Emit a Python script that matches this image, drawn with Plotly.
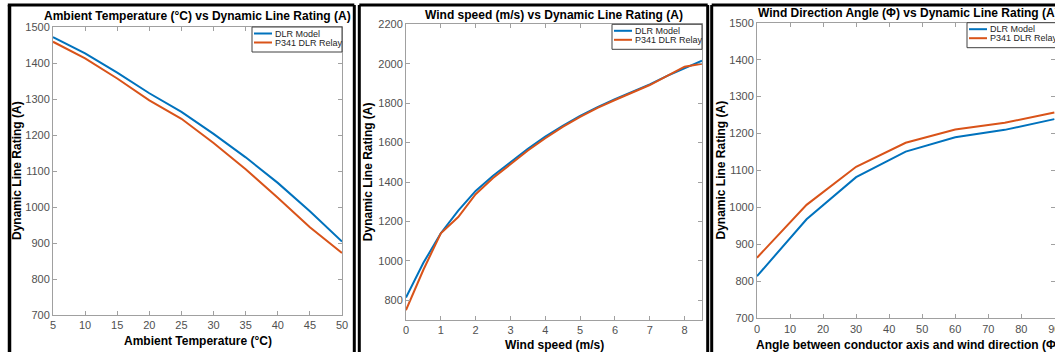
import plotly.graph_objects as go

W, H = 1055, 352

# ---------------- data ----------------
temp_c = [5, 10, 15, 20, 25, 30, 35, 40, 45, 50]
temp_dlr_model = [1472, 1427, 1373, 1316, 1264, 1203, 1138, 1067, 988, 904]
temp_p341_relay = [1459, 1413, 1357, 1296, 1245, 1178, 1105, 1026, 944, 872]

wind_speed = [0, 0.5, 1, 1.5, 2, 2.5, 3, 3.5, 4, 4.5, 5, 5.5, 6, 6.5, 7, 7.5, 8, 8.5]
wind_dlr_model = [814, 990, 1140, 1255, 1355, 1432, 1500, 1568, 1630, 1685, 1735,
                  1780, 1820, 1858, 1895, 1938, 1978, 2015]
wind_p341_relay = [750, 955, 1140, 1222, 1338, 1420, 1490, 1560, 1622, 1680, 1730,
                   1776, 1816, 1855, 1892, 1938, 1985, 2000]

angle_deg = [0, 15, 30, 45, 60, 75, 90]
angle_dlr_model = [814, 968, 1082, 1151, 1190, 1210, 1239]
angle_p341_relay = [864, 1007, 1110, 1175, 1211, 1229, 1257]

series_names = ["DLR Model", "P341 DLR Relay"]
titles = ["Ambient Temperature (°C) vs Dynamic Line Rating (A)",
          "Wind speed (m/s) vs Dynamic Line Rating (A)",
          "Wind Direction Angle (Φ) vs Dynamic Line Rating (A)"]
xtitles = ["Ambient Temperature (°C)", "Wind speed (m/s)",
           "Angle between conductor axis and wind direction (Φ)"]
ytitle = "Dynamic Line Rating (A)"

BLUE = "#0072BD"
ORANGE = "#D95319"
COLORS = [BLUE, ORANGE]
FONT = "Liberation Sans, Arial, sans-serif"


def fx(p):
    return p / W


def fy(p):
    return 1 - p / H


fig = go.Figure()

panels = [
    (temp_c, [temp_dlr_model, temp_p341_relay], "x", "y"),
    (wind_speed, [wind_dlr_model, wind_p341_relay], "x2", "y2"),
    (angle_deg, [angle_dlr_model, angle_p341_relay], "x3", "y3"),
]
for xs, ys_list, xa, ya in panels:
    for k, ys in enumerate(ys_list):
        fig.add_trace(go.Scatter(x=xs, y=ys, mode="lines", name=series_names[k],
                                 line=dict(color=COLORS[k], width=2), xaxis=xa, yaxis=ya,
                                 showlegend=False))

axis_common = dict(showline=True, linecolor="#a0a0a0", linewidth=1, mirror="ticks",
                   ticks="inside", ticklen=4, tickcolor="#a0a0a0", showgrid=False,
                   zeroline=False, automargin=False, ticklabeloverflow="allow",
                   tickfont=dict(size=11, color="#505050", family=FONT))

# plot-area pixel boxes (left, right, top, bottom)
boxes = [(53, 342, 27, 315), (406, 702, 24.3, 320), (757, 1055, 22.7, 318.3)]

fig.update_layout(
    width=W, height=H, margin=dict(l=0, r=0, t=0, b=0, autoexpand=False),
    paper_bgcolor="white", plot_bgcolor="white", showlegend=False,
    xaxis=dict(domain=[fx(53), fx(342)], range=[5, 50], tickvals=list(range(5, 51, 5)),
               anchor="y", **axis_common),
    yaxis=dict(domain=[fy(315), fy(27)], range=[700, 1500], tickvals=list(range(700, 1501, 100)),
               anchor="x", **axis_common),
    xaxis2=dict(domain=[fx(406), fx(702)], range=[0, 8.5], tickvals=list(range(0, 9)),
                anchor="y2", **axis_common),
    yaxis2=dict(domain=[fy(320), fy(24.3)], range=[700, 2200], tickvals=list(range(800, 2201, 200)),
                anchor="x2", **axis_common),
    xaxis3=dict(domain=[fx(757), 1.0], range=[0, 90.2], tickvals=list(range(0, 91, 10)),
                anchor="y3", **axis_common),
    yaxis3=dict(domain=[fy(318.3), fy(22.7)], range=[700, 1500], tickvals=list(range(700, 1501, 100)),
                anchor="x3", **axis_common),
)

anns = []
shapes = []
title_y = [16, 15, 13]
xtitle_y = [341, 345, 345]
ytitle_x = [17, 368, 720]
legend_right = [342, 702, 1057]
for i, (l, r, t, b) in enumerate(boxes):
    cx = (l + r) / 2
    if i == 2:
        cx = 908
    anns.append(dict(text="<b>%s</b>" % titles[i], x=fx(cx), y=fy(title_y[i]), xref="paper",
                     yref="paper", showarrow=False, xanchor="center", yanchor="middle",
                     font=dict(size=12, color="black", family=FONT)))
    anns.append(dict(text="<b>%s</b>" % xtitles[i], x=fx(cx), y=fy(xtitle_y[i]), xref="paper",
                     yref="paper", showarrow=False, xanchor="center", yanchor="middle",
                     font=dict(size=12, color="black", family=FONT)))
    anns.append(dict(text="<b>%s</b>" % ytitle, x=fx(ytitle_x[i]), y=fy((t + b) / 2), xref="paper",
                     yref="paper", showarrow=False, xanchor="center", yanchor="middle",
                     textangle=-90, font=dict(size=12, color="black", family=FONT)))
    # compact MATLAB-style legend box
    lr = legend_right[i]
    shapes.append(dict(type="rect", xref="paper", yref="paper", x0=fx(lr - 90), x1=fx(lr),
                       y0=fy(t + 25), y1=fy(t), line=dict(color="#404040", width=1),
                       fillcolor="white", layer="above"))
    for k in range(2):
        ry = t + 6.5 + 9 * k
        shapes.append(dict(type="line", xref="paper", yref="paper", x0=fx(lr - 88), x1=fx(lr - 70),
                           y0=fy(ry), y1=fy(ry), line=dict(color=COLORS[k], width=2), layer="above"))
        anns.append(dict(text=series_names[k], x=fx(lr - 69.5), y=fy(ry), xref="paper", yref="paper",
                         showarrow=False, xanchor="left", yanchor="middle",
                         font=dict(size=9, color="#262626", family=FONT)))

# black panel frames
frame_lines = [
    (9.5, 5, 9.5, 360, 3.5), (7.8, 5, 354.3, 5, 3), (354.3, 5, 354.3, 360, 3),
    (359.3, 5, 359.3, 360, 3), (359.3, 5, 707.7, 5, 3), (707.7, 5, 707.7, 360, 3),
    (711.7, 5, 711.7, 360, 3), (711.7, 5, 1060, 5, 3),
]
for x0, y0, x1, y1, w in frame_lines:
    shapes.append(dict(type="line", xref="paper", yref="paper", x0=fx(x0), y0=fy(y0),
                       x1=fx(x1), y1=fy(y1), line=dict(color="black", width=w)))
fig.update_layout(annotations=anns, shapes=shapes)

fig.write_html("out.html")
